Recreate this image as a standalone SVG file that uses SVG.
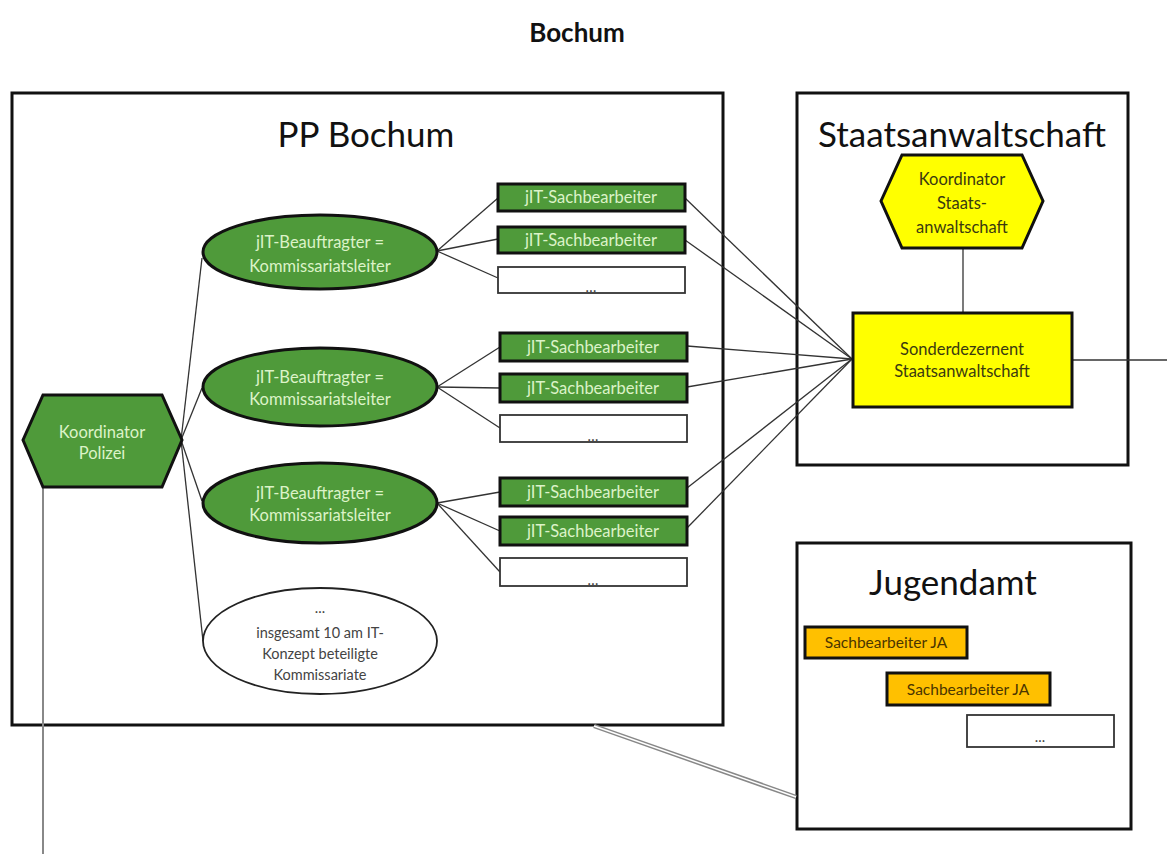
<svg xmlns="http://www.w3.org/2000/svg" width="1167" height="854" viewBox="0 0 1167 854">
<style>
text{font-family:Lato,"Open Sans","Liberation Sans",sans-serif;text-anchor:middle}
.frame{fill:#fff;stroke:#111;stroke-width:3}
.big{font-size:35px;fill:#111}
.g{fill:#4f9a3a;stroke:#111;stroke-width:3}
.gt{font-size:16.5px;fill:#dcf3c8}
.w{fill:#fff;stroke:#333;stroke-width:1.8}
.y{fill:#ffff00;stroke:#111;stroke-width:3}
.yt{font-size:16.5px;fill:#3a3a10}
.o{fill:#ffc000;stroke:#111;stroke-width:3}
.ot{font-size:15.5px;fill:#4a3500}
.dt{font-size:14.5px;fill:#444}
.c line{stroke:#333;stroke-width:1.3;fill:none}
</style>
<rect width="1167" height="854" fill="#fff"/>
<text x="577" y="42" style="font-size:26px;font-weight:bold;fill:#111">Bochum</text>

<g id="pp-bochum">
<rect class="frame" x="12" y="93" width="711" height="632"/>
<text class="big" x="366" y="147">PP Bochum</text>
</g>
<g id="staatsanwaltschaft">
<rect class="frame" x="797" y="93" width="331" height="372"/>
<text class="big" x="962" y="147">Staatsanwaltschaft</text>
</g>
<g id="jugendamt">
<rect class="frame" x="797" y="543" width="334" height="286"/>
<text class="big" x="953" y="595">Jugendamt</text>
</g>

<g class="c" id="connectors">
<line x1="43" y1="487" x2="43" y2="854" style="stroke:#888;stroke-width:2"/>
<line x1="181" y1="440" x2="202" y2="258"/>
<line x1="181" y1="440" x2="202" y2="388"/>
<line x1="181" y1="440" x2="202" y2="501"/>
<line x1="181" y1="440" x2="203" y2="641"/>
<line x1="437" y1="251" x2="498" y2="198"/>
<line x1="437" y1="251" x2="498" y2="239"/>
<line x1="437" y1="251" x2="498" y2="278"/>
<line x1="437" y1="387" x2="500" y2="347"/>
<line x1="437" y1="387" x2="500" y2="388"/>
<line x1="437" y1="387" x2="500" y2="428"/>
<line x1="437" y1="503" x2="500" y2="492"/>
<line x1="437" y1="503" x2="500" y2="531"/>
<line x1="437" y1="503" x2="500" y2="572"/>
<line x1="685" y1="198" x2="852" y2="359"/>
<line x1="685" y1="240" x2="852" y2="359"/>
<line x1="687" y1="346" x2="852" y2="359"/>
<line x1="687" y1="387" x2="852" y2="359"/>
<line x1="687" y1="488" x2="852" y2="359"/>
<line x1="687" y1="528" x2="852" y2="359"/>
<line x1="963" y1="248" x2="963" y2="313"/>
<line x1="1072" y1="360" x2="1167" y2="360"/>
<line x1="594" y1="726" x2="796" y2="797" style="stroke:#888;stroke-width:4.5"/>
<line x1="594" y1="726" x2="796" y2="797" style="stroke:#fff;stroke-width:1.5"/>
</g>

<g id="koordinator-polizei">
<polygon class="g" points="23,440 43,395 162,395 182,440 162,487 43,487"/>
<text class="gt" x="102" y="438">Koordinator</text>
<text class="gt" x="102" y="459">Polizei</text>
</g>

<g id="beauftragter-1">
<ellipse class="g" cx="320" cy="252" rx="117" ry="37"/>
<text class="gt" x="320" y="248">jIT-Beauftragter =</text>
<text class="gt" x="320" y="272">Kommissariatsleiter</text>
</g>
<g id="beauftragter-2">
<ellipse class="g" cx="320" cy="387" rx="117" ry="39"/>
<text class="gt" x="320" y="383">jIT-Beauftragter =</text>
<text class="gt" x="320" y="405">Kommissariatsleiter</text>
</g>
<g id="beauftragter-3">
<ellipse class="g" cx="320" cy="503" rx="117" ry="40"/>
<text class="gt" x="320" y="499">jIT-Beauftragter =</text>
<text class="gt" x="320" y="521">Kommissariatsleiter</text>
</g>
<g id="weitere-kommissariate">
<ellipse cx="320" cy="641" rx="117" ry="53" style="fill:#fff;stroke:#222;stroke-width:1.8"/>
<text class="dt" x="320" y="613">...</text>
<text class="dt" x="320" y="638">insgesamt 10 am IT-</text>
<text class="dt" x="320" y="659">Konzept beteiligte</text>
<text class="dt" x="320" y="680">Kommissariate</text>
</g>

<g id="sb-1-1"><rect class="g" x="498" y="184" width="187" height="27"/><text class="gt" x="591" y="203">jIT-Sachbearbeiter</text></g>
<g id="sb-1-2"><rect class="g" x="498" y="227" width="187" height="26"/><text class="gt" x="591" y="246">jIT-Sachbearbeiter</text></g>
<g id="sb-1-3"><rect class="w" x="498" y="267" width="187" height="26"/><text class="dt" x="591" y="292">…</text></g>

<g id="sb-2-1"><rect class="g" x="500" y="333" width="187" height="28"/><text class="gt" x="593" y="353">jIT-Sachbearbeiter</text></g>
<g id="sb-2-2"><rect class="g" x="500" y="374" width="187" height="28"/><text class="gt" x="593" y="394">jIT-Sachbearbeiter</text></g>
<g id="sb-2-3"><rect class="w" x="500" y="415" width="187" height="27"/><text class="dt" x="593" y="441">…</text></g>

<g id="sb-3-1"><rect class="g" x="500" y="478" width="187" height="28"/><text class="gt" x="593" y="498">jIT-Sachbearbeiter</text></g>
<g id="sb-3-2"><rect class="g" x="500" y="517" width="187" height="28"/><text class="gt" x="593" y="537">jIT-Sachbearbeiter</text></g>
<g id="sb-3-3"><rect class="w" x="500" y="558" width="187" height="28"/><text class="dt" x="593" y="585">…</text></g>

<g id="koordinator-staatsanwaltschaft">
<polygon class="y" points="881,201 902,155 1022,155 1043,201 1022,248 902,248"/>
<text class="yt" x="962" y="185">Koordinator</text>
<text class="yt" x="962" y="209">Staats-</text>
<text class="yt" x="962" y="233">anwaltschaft</text>
</g>
<g id="sonderdezernent">
<rect class="y" x="853" y="313" width="219" height="94"/>
<text class="yt" x="962" y="355">Sonderdezernent</text>
<text class="yt" x="962" y="377">Staatsanwaltschaft</text>
</g>

<g id="sb-ja-1"><rect class="o" x="805" y="627" width="162" height="31"/><text class="ot" x="886" y="648">Sachbearbeiter JA</text></g>
<g id="sb-ja-2"><rect class="o" x="887" y="673" width="163" height="32"/><text class="ot" x="968" y="695">Sachbearbeiter JA</text></g>
<g id="sb-ja-3"><rect class="w" x="967" y="715" width="147" height="32"/><text class="dt" x="1040" y="742">...</text></g>
</svg>
